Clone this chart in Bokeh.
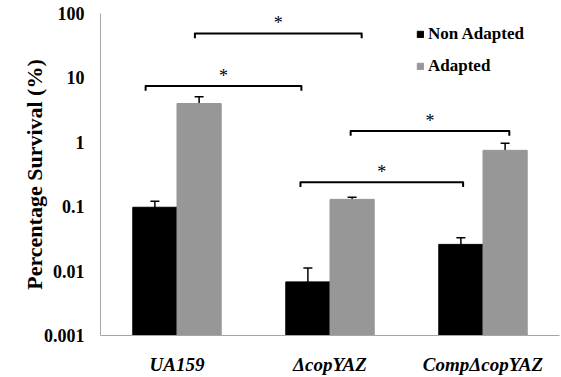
from bokeh.plotting import figure
from bokeh.models import (ColumnDataSource, FixedTicker, Whisker, TeeHead,
                          Legend, LegendItem)
from bokeh.core.properties import value
from bokeh.embed import file_html
from bokeh.resources import INLINE

# ---- data ----
strains = ["UA159", "\u0394copYAZ", "Comp\u0394copYAZ"]
non_adapted = [0.098, 0.0068, 0.026]
non_adapted_upper = [0.121, 0.0112, 0.033]
non_adapted_lower = [0.076, 0.0026, 0.019]
adapted = [4.0, 0.13, 0.75]
adapted_upper = [5.1, 0.14, 0.97]
adapted_lower = [3.0, 0.12, 0.56]
y_ticks = [0.001, 0.01, 0.1, 1, 10, 100]
y_tick_labels = ["0.001", "0.01", "0.1", "1", "10", "100"]

# significance brackets (left x, right x, level)
br_left = [0.617, 0.295, 1.635, 1.307]
br_right = [1.707, 1.313, 2.672, 2.370]
br_level = [49, 7.5, 1.5, 0.24]

FONT = "Liberation Serif"
BLACK = "#000000"
GRAY = "#979797"

centers = [i + 0.5 for i in range(len(strains))]
off = 0.1445
bw = 0.289

p = figure(width=561, height=377, y_axis_type="log", x_range=(0, 3),
           y_range=(0.001, 100), output_backend="svg", toolbar_location=None,
           min_border_left=100, min_border_right=2, min_border_top=13,
           min_border_bottom=39)
p.outline_line_color = None
p.xgrid.visible = False
p.ygrid.visible = False
p.background_fill_color = "white"
p.border_fill_color = "white"

src_na = ColumnDataSource(dict(x=[c - off for c in centers], top=non_adapted,
                               up=non_adapted_upper, lo=non_adapted_lower))
src_a = ColumnDataSource(dict(x=[c + off for c in centers], top=adapted,
                              up=adapted_upper, lo=adapted_lower))

r_na = p.vbar(x="x", top="top", bottom=0.001, width=bw, source=src_na,
              fill_color=BLACK, line_color=BLACK)
r_a = p.vbar(x="x", top="top", bottom=0.001, width=bw, source=src_a,
             fill_color=GRAY, line_color=GRAY)

for src in (src_na, src_a):
    w = Whisker(source=src, base="x", upper="up", lower="lo",
                dimension="height", line_color="black", line_width=1.5,
                upper_head=TeeHead(size=9, line_width=1.5, line_color="black"),
                lower_head=TeeHead(size=9, line_width=1.5, line_color="black"))
    p.add_layout(w)

# brackets
drop = 0.84
xs, ys = [], []
for l, r, lv in zip(br_left, br_right, br_level):
    xs.append([l, l, r, r])
    ys.append([lv * drop, lv, lv, lv * drop])
p.multi_line(xs, ys, line_color="black", line_width=2, line_join="round")
p.text(x=[(l + r) / 2 for l, r in zip(br_left, br_right)],
       y=[lv * 1.45 for lv in br_level], text=["*"] * len(br_level),
       text_font=value(FONT), text_font_size="18px", text_align="center",
       text_baseline="middle", text_color="black")

# axes
p.yaxis.ticker = FixedTicker(ticks=y_ticks)
p.yaxis.major_label_overrides = {t: s for t, s in zip(y_ticks, y_tick_labels)}
p.yaxis.minor_tick_line_color = None
p.yaxis.major_tick_out = 5
p.yaxis.major_tick_in = 0
p.yaxis.major_label_standoff = 11
p.yaxis.axis_label = "Percentage Survival (%)"
p.yaxis.axis_label_text_font = FONT
p.yaxis.axis_label_text_font_style = "bold"
p.yaxis.axis_label_text_font_size = "22px"
p.yaxis.axis_label_text_color = "black"
p.yaxis.axis_label_standoff = -6

p.xaxis.ticker = FixedTicker(ticks=centers, minor_ticks=[0, 1, 2, 3])
p.xaxis.major_label_overrides = {c: s for c, s in zip(centers, strains)}
p.xaxis.major_tick_out = 0
p.xaxis.major_tick_in = 0
p.xaxis.minor_tick_out = 6
p.xaxis.minor_tick_in = 0
p.xaxis.major_label_standoff = 12
p.xaxis.major_label_text_font_style = "bold italic"

for ax in (p.xaxis, p.yaxis):
    ax.axis_line_color = "#a6a6a6"
    ax.major_tick_line_color = "#a6a6a6" if ax is p.yaxis else None
    ax.minor_tick_line_color = "#a6a6a6" if ax is p.xaxis else None
    ax.major_label_text_font = FONT
    ax.major_label_text_font_size = "19px"
    ax.major_label_text_color = "black"
p.yaxis.major_label_text_font_style = "bold"
p.yaxis.major_label_text_font_size = "18px"

legend = Legend(items=[LegendItem(label="Non Adapted", renderers=[r_na]),
                       LegendItem(label="Adapted", renderers=[r_a])],
                location=(316, 259), glyph_width=8, glyph_height=8,
                label_height=20, spacing=12, label_standoff=4, padding=0,
                margin=0, border_line_alpha=0, background_fill_alpha=0,
                label_text_font=FONT, label_text_font_style="bold",
                label_text_font_size="17px", label_text_color="black")
p.add_layout(legend)

open("out.html", "w").write(file_html(p, INLINE))
